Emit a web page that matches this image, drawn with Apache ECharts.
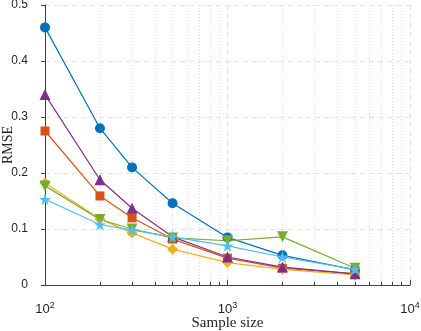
<!DOCTYPE html>
<html>
<head>
<meta charset="utf-8">
<script src="https://cdn.jsdelivr.net/npm/echarts@6/dist/echarts.min.js"></script>
<style>
html, body { margin: 0; padding: 0; background: #fff; }
#main { width: 421px; height: 331px; }
</style>
</head>
<body>
<div id="main"></div>
<script>
var sampleSize = [100, 200, 300, 500, 1000, 2000, 5000];
var minorTicks = [200, 300, 400, 500, 600, 700, 800, 900, 2000, 3000, 4000, 5000, 6000, 7000, 8000, 9000];
var yTicks = [0, 0.1, 0.2, 0.3, 0.4, 0.5];

var blueCircle = [0.460, 0.280, 0.210, 0.146, 0.085, 0.053, 0.027];
var orangeSquare = [0.275, 0.159, 0.120, 0.082, 0.048, 0.030, 0.020];
var yellowDiamond = [0.182, 0.118, 0.093, 0.064, 0.040, 0.028, 0.018];
var purpleTriangle = [0.340, 0.188, 0.137, 0.086, 0.050, 0.032, 0.020];
var greenTriangle = [0.177, 0.117, 0.100, 0.084, 0.079, 0.086, 0.030];
var cyanStar = [0.153, 0.108, 0.098, 0.086, 0.070, 0.050, 0.028];

var starPath = 'path://M50,0 L61.8,35.3 L97.6,35.4 L68.8,57.3 L79.4,91.6 L50,70.6 L20.6,91.6 L31.2,57.3 L2.4,35.4 L38.2,35.3 Z';

function pairs(ys) {
    var out = [];
    for (let i = 0; i < sampleSize.length; i++) {
        out.push([sampleSize[i], ys[i]]);
    }
    return out;
}

function makeSeries(name, ys, color, symbol, size, rotate) {
    return {
        name: name,
        type: 'line',
        data: pairs(ys),
        symbol: symbol,
        symbolSize: size,
        symbolRotate: rotate || 0,
        lineStyle: { color: color, width: 1.2 },
        itemStyle: { color: color },
        animation: false
    };
}

var myChart = echarts.init(document.getElementById('main'));
var option = {
    backgroundColor: '#fff',
    grid: { left: 45, right: 11, top: 5, bottom: 46, containLabel: false, outerBoundsMode: 'none' },
    xAxis: [
        {
            type: 'log',
            logBase: 10,
            min: 100,
            max: 10000,
            axisLine: { lineStyle: { color: '#404040', width: 1 } },
            axisTick: { inside: true, length: 5, lineStyle: { color: '#404040' } },
            axisLabel: {
                margin: 12,
                fontFamily: 'Liberation Sans',
                fontSize: 13,
                color: '#262626',
                formatter: function (v) {
                    return '{b|10}{sup|' + Math.round(Math.log10(v)) + '}';
                },
                rich: {
                    b: { fontSize: 13, fontFamily: 'Liberation Sans', color: '#262626', padding: [6, 0, 0, 0] },
                    sup: { fontSize: 9, fontFamily: 'Liberation Sans', color: '#262626', padding: [0, 0, 2, 0] }
                }
            },
            splitLine: { show: true, lineStyle: { color: '#e3e3e3', type: [5, 4] } },
            name: 'Sample size',
            nameLocation: 'middle',
            nameGap: 31,
            nameMoveOverlap: false,
            nameTextStyle: { fontFamily: 'Liberation Serif', fontSize: 15, color: '#262626' }
        },
        {
            type: 'log',
            logBase: 10,
            min: 100,
            max: 10000,
            position: 'bottom',
            axisLine: { show: false },
            axisTick: { show: true, inside: true, length: 3, customValues: minorTicks, lineStyle: { color: '#404040' } },
            axisLabel: { show: false },
            splitLine: { show: true, lineStyle: { color: '#dcdcdc', type: [1, 2] } }
        }
    ],
    yAxis: {
        type: 'value',
        min: 0,
        max: 0.5,
        interval: 0.1,
        axisLine: { show: true, lineStyle: { color: '#404040', width: 1 } },
        axisTick: { show: true, inside: false, length: 4, lineStyle: { color: '#404040' } },
        axisLabel: {
            fontFamily: 'Liberation Sans',
            fontSize: 12,
            color: '#262626',
            margin: 17,
            customValues: yTicks,
            formatter: function (v) { return v === 0 ? '0' : v.toFixed(1); }
        },
        splitLine: { show: true, lineStyle: { color: '#e3e3e3', type: [5, 4] } },
        name: 'RMSE',
        nameLocation: 'middle',
        nameGap: 30,
        nameMoveOverlap: false,
        nameTextStyle: { fontFamily: 'Liberation Serif', fontSize: 14, color: '#262626' }
    },
    series: [
        makeSeries('blue', blueCircle, '#0072BD', 'circle', 10),
        makeSeries('orange', orangeSquare, '#D95319', 'rect', 9),
        makeSeries('yellow', yellowDiamond, '#EDB120', 'diamond', 11),
        makeSeries('purple', purpleTriangle, '#7E2F8E', 'triangle', 11),
        makeSeries('green', greenTriangle, '#77AC30', 'triangle', 11, 180),
        makeSeries('cyan', cyanStar, '#4DBEEE', starPath, 12)
    ]
};
myChart.setOption(option);
</script>
</body>
</html>
